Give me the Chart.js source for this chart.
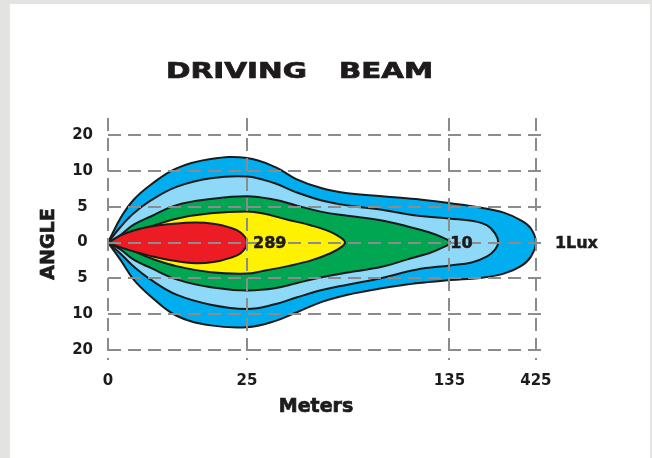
<!DOCTYPE html>
<html>
<head>
<meta charset="utf-8">
<script src="https://cdn.jsdelivr.net/npm/chart.js@4.4.1/dist/chart.umd.min.js"></script>
<style>
  html, body { margin: 0; padding: 0; background: #e3e3e1; }
  #wrap { position: absolute; left: 10px; top: 4px; width: 640px; height: 454px; background: #fff; }
  canvas { display: block; }
</style>
</head>
<body>
<div id="wrap"><canvas id="beamChart" width="640" height="454"></canvas></div>
<script>
// eje X: posicion en el grafico (0 = faro, 100 = 425 m)
const meterTicks = [0, 32.5, 79.8, 100];
const meterLabels = ['0', '25', '135', '425'];
// eje Y: posicion de cada linea de angulo
const angleTicks = [3, 2, 1, 0, -1, -2, -3];
const angleLabels = ['20', '10', '5', '0', '5', '10', '20'];

const titleWords = ['DRIVING', 'BEAM'];

// zonas del haz (de fuera hacia dentro): x, ancho arriba, ancho abajo, punta
const blueX    = [3, 6, 10, 16, 24, 32.5, 39, 44, 50, 56, 64, 72, 80, 87, 92.5, 96.5, 98.8];
const blueUp   = [0.70, 1.20, 1.62, 2.08, 2.34, 2.37, 2.12, 1.78, 1.52, 1.38, 1.30, 1.22, 1.10, 0.98, 0.84, 0.62, 0.40];
const blueDown = [0.50, 1.04, 1.51, 2.05, 2.32, 2.37, 2.20, 1.96, 1.66, 1.46, 1.28, 1.14, 1.05, 0.99, 0.87, 0.66, 0.40];
const blueTip  = 100;

const skyX    = [3, 6, 10, 16, 24, 32.5, 39, 44, 50, 56, 64, 72, 80, 85, 88.6, 90.5];
const skyUp   = [0.45, 0.82, 1.18, 1.56, 1.80, 1.85, 1.66, 1.41, 1.18, 1.04, 0.92, 0.76, 0.67, 0.61, 0.48, 0.25];
const skyDown = [0.32, 0.67, 1.04, 1.46, 1.74, 1.86, 1.73, 1.54, 1.33, 1.18, 0.99, 0.76, 0.64, 0.56, 0.39, 0.19];
const skyTip  = 91.2;

const greenX    = [3, 6, 10, 16, 24, 32.5, 39, 44, 50, 56, 64, 70, 75, 78];
const greenUp   = [0.22, 0.50, 0.73, 1.05, 1.22, 1.30, 1.20, 1.04, 0.86, 0.75, 0.62, 0.45, 0.29, 0.15];
const greenDown = [0.20, 0.48, 0.71, 1.03, 1.25, 1.34, 1.28, 1.14, 0.97, 0.84, 0.68, 0.47, 0.30, 0.15];
const greenTip  = 80;

const yellowX    = [3, 6, 10, 16, 24, 32.5, 36, 42, 47.5, 52, 54.6];
const yellowUp   = [0.12, 0.26, 0.45, 0.67, 0.82, 0.87, 0.82, 0.64, 0.48, 0.30, 0.12];
const yellowDown = [0.10, 0.24, 0.44, 0.66, 0.83, 0.87, 0.80, 0.66, 0.50, 0.30, 0.12];
const yellowTip  = 55.4;

const redX    = [3, 6, 10, 14, 20.5, 25, 28, 31];
const redUp   = [0.20, 0.34, 0.45, 0.51, 0.56, 0.52, 0.44, 0.28];
const redDown = [0.14, 0.25, 0.38, 0.48, 0.58, 0.54, 0.45, 0.30];
const redTip  = 32.5;

// etiquetas de lux en la punta de cada zona
const luxLabels = ['289', '10', '1Lux'];
const luxTips = [redTip, greenTip, blueTip];

function contorno(xs, up, down, tip) {
    const pts = [{x: 0, y: 0}];
    xs.forEach((x, i) => pts.push({x: x, y: up[i]}));
    pts.push({x: tip, y: 0});
    for (let i = xs.length - 1; i >= 0; i--) {
        pts.push({x: xs[i], y: -down[i]});
    }
    pts.push({x: 0, y: 0});
    return pts;
}

const zonas = [
    {data: contorno(blueX, blueUp, blueDown, blueTip), color: '#00aeef'},
    {data: contorno(skyX, skyUp, skyDown, skyTip), color: '#8ed8f8'},
    {data: contorno(greenX, greenUp, greenDown, greenTip), color: '#00a651'},
    {data: contorno(yellowX, yellowUp, yellowDown, yellowTip), color: '#fff200'},
    {data: contorno(redX, redUp, redDown, redTip), color: '#ed1c24'}
];

// texto ensanchado (la fuente original es mas ancha)
function textoAncho(ctx, txt, x, y, w) {
    const nat = ctx.measureText(txt).width;
    ctx.save();
    ctx.translate(x, y);
    ctx.scale(w / nat, 1);
    ctx.fillText(txt, 0, 0);
    ctx.strokeText(txt, 0, 0);
    ctx.restore();
}

function texto(ctx, txt, x, y) {
    ctx.fillText(txt, x, y);
    ctx.strokeText(txt, x, y);
}

const textos = {
    id: 'textos',
    afterDraw(chart) {
        const ctx = chart.ctx;
        const sx = chart.scales.x, sy = chart.scales.y;
        ctx.save();
        ctx.fillStyle = '#1e1b1c';
        ctx.strokeStyle = '#1e1b1c';
        ctx.lineWidth = 0.7;

        // titulo
        ctx.font = 'bold 21px "DejaVu Sans"';
        ctx.textAlign = 'left';
        ctx.textBaseline = 'alphabetic';
        textoAncho(ctx, titleWords[0], 156, 74, 141);
        textoAncho(ctx, titleWords[1], 329, 74, 94);

        // titulos de ejes
        ctx.font = 'bold 19px "DejaVu Sans"';
        ctx.textAlign = 'center';
        texto(ctx, 'Meters', 306, 408);
        ctx.save();
        ctx.translate(39, 240);
        ctx.rotate(-Math.PI / 2);
        ctx.textBaseline = 'middle';
        texto(ctx, 'ANGLE', 0, 0);
        ctx.restore();

        // lux
        ctx.font = 'bold 16px "DejaVu Sans"';
        ctx.textAlign = 'left';
        ctx.textBaseline = 'middle';
        ctx.lineWidth = 0.5;
        const offs = [6, 0, 19];
        luxLabels.forEach((t, i) => {
            texto(ctx, t, sx.getPixelForValue(luxTips[i]) + offs[i], sy.getPixelForValue(0) + 1);
        });
        ctx.restore();
    }
};

const fuenteTicks = {family: 'DejaVu Sans', weight: 'bold', size: 15};

const config = {
    type: 'line',
    data: {
        datasets: zonas.map((z, i) => ({
            data: z.data,
            backgroundColor: z.color,
            borderColor: '#1b1b1b',
            borderWidth: 2,
            fill: 'shape',
            tension: 0.4,
            pointRadius: 0,
            pointHoverRadius: 0,
            order: zonas.length - i
        }))
    },
    options: {
        responsive: false,
        animation: false,
        events: [],
        layout: {padding: {left: 0, right: 103, top: 114, bottom: 0}},
        plugins: {legend: {display: false}, tooltip: {enabled: false}},
        scales: {
            x: {
                type: 'linear',
                min: 0,
                max: 102.6,
                afterBuildTicks: s => { s.ticks = meterTicks.map(v => ({value: v})); },
                afterFit: s => { s.height = 98; },
                ticks: {
                    autoSkip: false,
                    maxRotation: 0,
                    padding: 12,
                    color: '#1e1b1c',
                    font: fuenteTicks,
                    callback: (v, i) => meterLabels[i]
                },
                grid: {color: '#8c8c8c', lineWidth: 2, drawTicks: false, z: 1},
                border: {display: false, dash: [13, 7]}
            },
            y: {
                type: 'linear',
                min: -3.29,
                max: 3.49,
                afterBuildTicks: s => { s.ticks = angleTicks.map(v => ({value: v})); },
                afterFit: s => { s.width = 98; },
                ticks: {
                    autoSkip: false,
                    padding: 15,
                    crossAlign: 'center',
                    color: '#1e1b1c',
                    font: fuenteTicks,
                    callback: (v, i) => angleLabels[i]
                },
                grid: {color: '#8c8c8c', lineWidth: 2, drawTicks: false, z: 1},
                border: {display: false, dash: [13, 7]}
            }
        }
    },
    plugins: [textos]
};

new Chart(document.getElementById('beamChart').getContext('2d'), config);
</script>
</body>
</html>
